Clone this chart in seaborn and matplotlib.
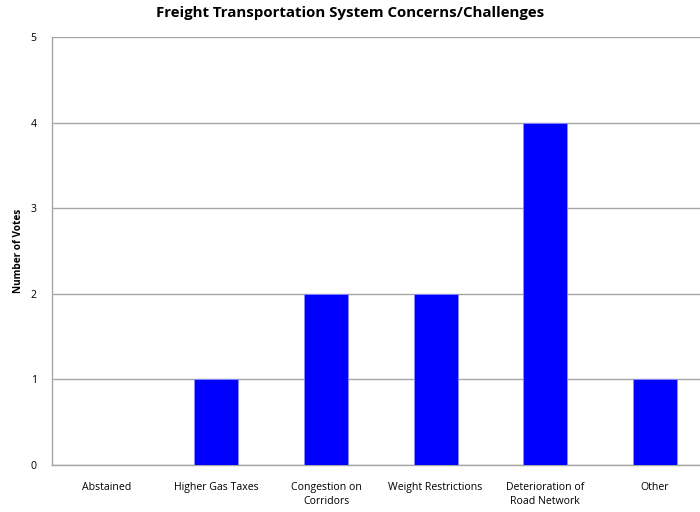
import matplotlib
matplotlib.use('Agg')
import matplotlib.pyplot as plt
import seaborn as sns
import pandas as pd
import numpy as np

categories = ['Abstained', 'Higher Gas Taxes', 'Congestion on\nCorridors',
              'Weight Restrictions', 'Deterioration of\nRoad Network', 'Other']
votes = [0, 1, 2, 2, 4, 1]
y_ticks = [0, 1, 2, 3, 4, 5]

df = pd.DataFrame({'category': categories, 'votes': votes})

sns.set_style('white')
plt.rcParams['font.family'] = ['Open Sans', 'DejaVu Sans']
plt.rcParams['text.color'] = 'black'
plt.rcParams['xtick.color'] = 'black'
plt.rcParams['ytick.color'] = 'black'
plt.rcParams['axes.labelcolor'] = 'black'

fig = plt.figure(figsize=(7, 5.12), dpi=100)
ax = fig.add_axes([52 / 700, 1 - 465 / 512, 657.6 / 700, 428 / 512])

sns.barplot(data=df, x='category', y='votes', color='#0000FF', saturation=1,
            width=0.4, ax=ax, zorder=3, edgecolor='#8C8CFF', linewidth=0.6)

ax.set_ylim(0, 5)
ax.set_xlim(-0.5, len(categories) - 0.5)
ax.set_yticks(y_ticks)
ax.yaxis.grid(True, color='#A6A6A6', linewidth=1, zorder=0)
ax.xaxis.grid(False)

ax.set_xticks(np.arange(len(categories)))
ax.set_xticklabels(categories, fontsize=7.6, linespacing=1.45)
ax.set_xticks(np.arange(len(categories)) - 0.5, minor=True)
ax.tick_params(axis='x', which='major', length=0, pad=12)
ax.tick_params(axis='x', which='minor', length=5, color='#A6A6A6', width=1)
ax.tick_params(axis='y', length=5, color='#A6A6A6', width=1, labelsize=7.6,
               labelcolor='black', pad=6)

for side in ['top', 'right']:
    ax.spines[side].set_visible(False)
for side in ['left', 'bottom']:
    ax.spines[side].set_color('#A6A6A6')
    ax.spines[side].set_linewidth(1)

ax.set_xlabel('')
ax.set_ylabel('Number of Votes', fontsize=7.2, fontweight='bold', labelpad=5)
fig.text(0.5, 0.974, 'Freight Transportation System Concerns/Challenges',
         ha='center', va='center', fontsize=10.8, fontweight='bold')

fig.savefig('out.png', dpi=100)
